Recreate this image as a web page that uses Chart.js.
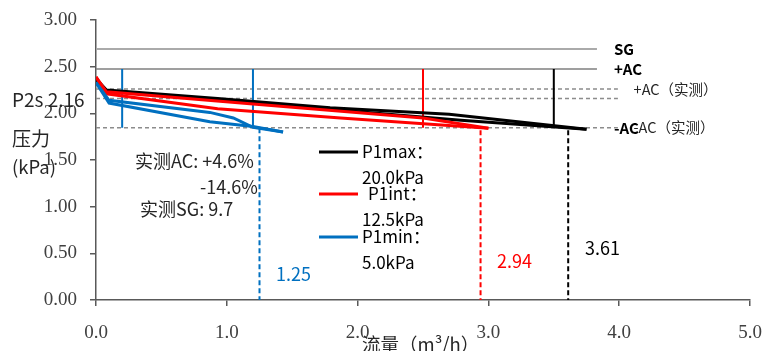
<!DOCTYPE html>
<html lang="zh">
<head>
<meta charset="UTF-8">
<title>压力-流量</title>
<script src="https://cdn.jsdelivr.net/npm/chart.js@4.4.1/dist/chart.umd.min.js"></script>
<style>
  html, body { margin: 0; padding: 0; background: #fff; }
</style>
</head>
<body>
<canvas id="flowChart" width="762" height="351"></canvas>
<script>
  const xTickLabels = ['0.0', '1.0', '2.0', '3.0', '4.0', '5.0'];
  const yTickLabels = ['0.00', '0.50', '1.00', '1.50', '2.00', '2.50', '3.00'];

  // P1max (black): two branches
  const maxFlowA = [0, 0.08, 0.93, 1.79, 2.7, 3.75];
  const maxPresA = [2.37, 2.25, 2.16, 2.06, 1.99, 1.83];
  const maxFlowB = [0, 0.08, 1.2, 2.79, 3.75];
  const maxPresB = [2.37, 2.24, 2.11, 1.925, 1.83];

  // P1int (red)
  const intFlowA = [0, 0.08, 1.2, 2.5, 3.0];
  const intPresA = [2.39, 2.23, 2.10, 1.95, 1.84];
  const intFlowB = [0, 0.08, 0.93, 1.87, 3.0];
  const intPresB = [2.39, 2.21, 2.05, 1.95, 1.84];

  // P1min (blue)
  const minFlowA = [0, 0.1, 0.87, 1.05, 1.2, 1.43];
  const minPresA = [2.33, 2.14, 2.01, 1.95, 1.85, 1.80];
  const minFlowB = [0, 0.1, 0.87, 1.2, 1.43];
  const minPresB = [2.33, 2.11, 1.91, 1.86, 1.80];

  // horizontal reference levels
  const refValues = [2.69, 2.475, 2.26, 2.16, 1.845];
  const refEnds = [3.83, 3.83, 3.99, 3.99, 3.99];

  // solid verticals between +AC and -AC
  const markFlow = [0.2, 1.2, 2.5, 3.5];
  const markBottom = [1.845, 1.845, 1.845, 1.86];

  // dashed verticals (max flow)
  const limitFlow = [1.25, 2.94, 3.61];
  const limitFrom = [1.84, 1.82, 1.82];

  const BLACK = '#000000', RED = '#ff0000', BLUE = '#0070c0';
  const SANS = '"Noto Sans CJK SC", "Noto Sans", sans-serif';

  function pts(xs, ys) {
    return xs.map((v, i) => ({ x: v, y: ys[i] }));
  }

  const datasets = [];
  function addLine(data, color, width, dash) {
    datasets.push({
      data: data,
      borderColor: color,
      borderWidth: width,
      borderDash: dash || [],
      pointRadius: 0,
      showLine: true,
      tension: 0,
      fill: false
    });
  }

  addLine(pts(minFlowA, minPresA), BLUE, 3);
  addLine(pts(minFlowB, minPresB), BLUE, 3);
  addLine(pts(intFlowA, intPresA), RED, 3);
  addLine(pts(intFlowB, intPresB), RED, 3);
  addLine(pts(maxFlowA, maxPresA), BLACK, 3);
  addLine(pts(maxFlowB, maxPresB), BLACK, 3);

  const markColors = [BLUE, BLUE, RED, BLACK];
  markFlow.forEach((f, i) => {
    addLine([{ x: f, y: refValues[1] }, { x: f, y: markBottom[i] }], markColors[i], 2);
  });

  const limitColors = [BLUE, RED, BLACK];
  limitFlow.forEach((f, i) => {
    addLine([{ x: f, y: limitFrom[i] }, { x: f, y: 0 }], limitColors[i], 2, [5, 3]);
  });

  const refColors = ['#aaaaaa', '#7f7f7f', '#8c8c8c', '#8c8c8c', '#8c8c8c'];
  const refDash = [[], [], [4, 3], [4, 3], [4, 3]];
  const refWidth = [2, 1.5, 1.5, 1.5, 1.5];
  refValues.forEach((v, i) => {
    addLine([{ x: 0, y: v }, { x: refEnds[i], y: v }], refColors[i], refWidth[i], refDash[i]);
  });

  const notesPlugin = {
    id: 'notes',
    afterDatasetsDraw(chart) {
      const ctx = chart.ctx;
      const x = chart.scales.x, y = chart.scales.y;
      ctx.save();
      ctx.textBaseline = 'middle';
      ctx.textAlign = 'left';

      function text(str, px, py, font, color) {
        ctx.font = font;
        ctx.fillStyle = color || '#262626';
        ctx.fillText(str, px, py);
      }

      // reference line labels
      const labelX = x.getPixelForValue(3.96);
      const label2X = x.getPixelForValue(4.11);
      text('SG', labelX, y.getPixelForValue(refValues[0]), 'bold 15px ' + SANS, '#000');
      text('+AC', labelX, y.getPixelForValue(refValues[1]), 'bold 15px ' + SANS, '#000');
      text('+AC（实测）', label2X, y.getPixelForValue(refValues[2]), '14.5px ' + SANS);
      text('-AC', labelX, y.getPixelForValue(refValues[4]), 'bold 15px ' + SANS, '#000');
      text('-AC（实测）', label2X, y.getPixelForValue(refValues[4]), '14.5px ' + SANS);

      // left side texts
      text('P2s 2.16', 12, 100, '19px ' + SANS);
      text('压力', 12, 139, '19px ' + SANS);
      text('(kPa)', 12, 167, '18.5px ' + SANS);

      // annotations
      text('实测AC: +4.6%', 135, 161, '18px ' + SANS);
      text('-14.6%', 200, 187, '18px ' + SANS);
      text('实测SG: 9.7', 140, 209, '18px ' + SANS);
      text(limitFlow[0].toFixed(2), 276, 274, '18px ' + SANS, BLUE);
      text(limitFlow[1].toFixed(2), 497, 261, '18px ' + SANS, RED);
      text(limitFlow[2].toFixed(2), 585, 248, '18px ' + SANS, '#000');

      // axis title
      text('流量（m³/h）', 362, 344, '18.5px ' + SANS);

      // legend
      const legend = [
        ['P1max：', '20.0kPa', BLACK, 152, 362],
        ['P1int：', '12.5kPa', RED, 194, 368],
        ['P1min：', '5.0kPa', BLUE, 237, 362]
      ];
      legend.forEach(([a, b, c, ly, tx]) => {
        ctx.strokeStyle = c;
        ctx.lineWidth = 3;
        ctx.beginPath();
        ctx.moveTo(319, ly);
        ctx.lineTo(358, ly);
        ctx.stroke();
        text(a, tx, ly, '17px ' + SANS, '#000');
        text(b, 362, ly + 26, '17px ' + SANS, '#000');
      });
      ctx.restore();
    }
  };

  new Chart(document.getElementById('flowChart'), {
    type: 'scatter',
    data: { datasets: datasets },
    options: {
      responsive: false,
      animation: false,
      devicePixelRatio: 1,
      layout: { padding: { top: 20, right: 12, left: 0, bottom: 0 } },
      plugins: { legend: { display: false }, tooltip: { enabled: false } },
      scales: {
        x: {
          type: 'linear',
          min: 0, max: 5,
          ticks: {
            stepSize: 1,
            padding: 16,
            maxRotation: 0,
            color: '#404040',
            font: { family: '"Liberation Serif", serif', size: 19 },
            callback: (v, i) => xTickLabels[i]
          },
          grid: { drawOnChartArea: false, drawTicks: true, tickLength: 6, color: '#595959', lineWidth: 1.5 },
          border: { display: true, color: '#595959', width: 1.5 },
          afterFit: (s) => { s.height = 51; s.paddingLeft = 0; s.paddingRight = 0; }
        },
        y: {
          type: 'linear',
          min: 0, max: 3,
          ticks: {
            stepSize: 0.5,
            padding: 13,
            color: '#404040',
            font: { family: '"Liberation Serif", serif', size: 19 },
            callback: (v, i) => yTickLabels[i]
          },
          grid: { drawOnChartArea: false, drawTicks: true, tickLength: 6, color: '#595959', lineWidth: 1.5 },
          border: { display: true, color: '#595959', width: 1.5 },
          afterFit: (s) => { s.width = 96; s.paddingTop = 0; s.paddingBottom = 0; }
        }
      }
    },
    plugins: [notesPlugin]
  });
</script>
</body>
</html>
